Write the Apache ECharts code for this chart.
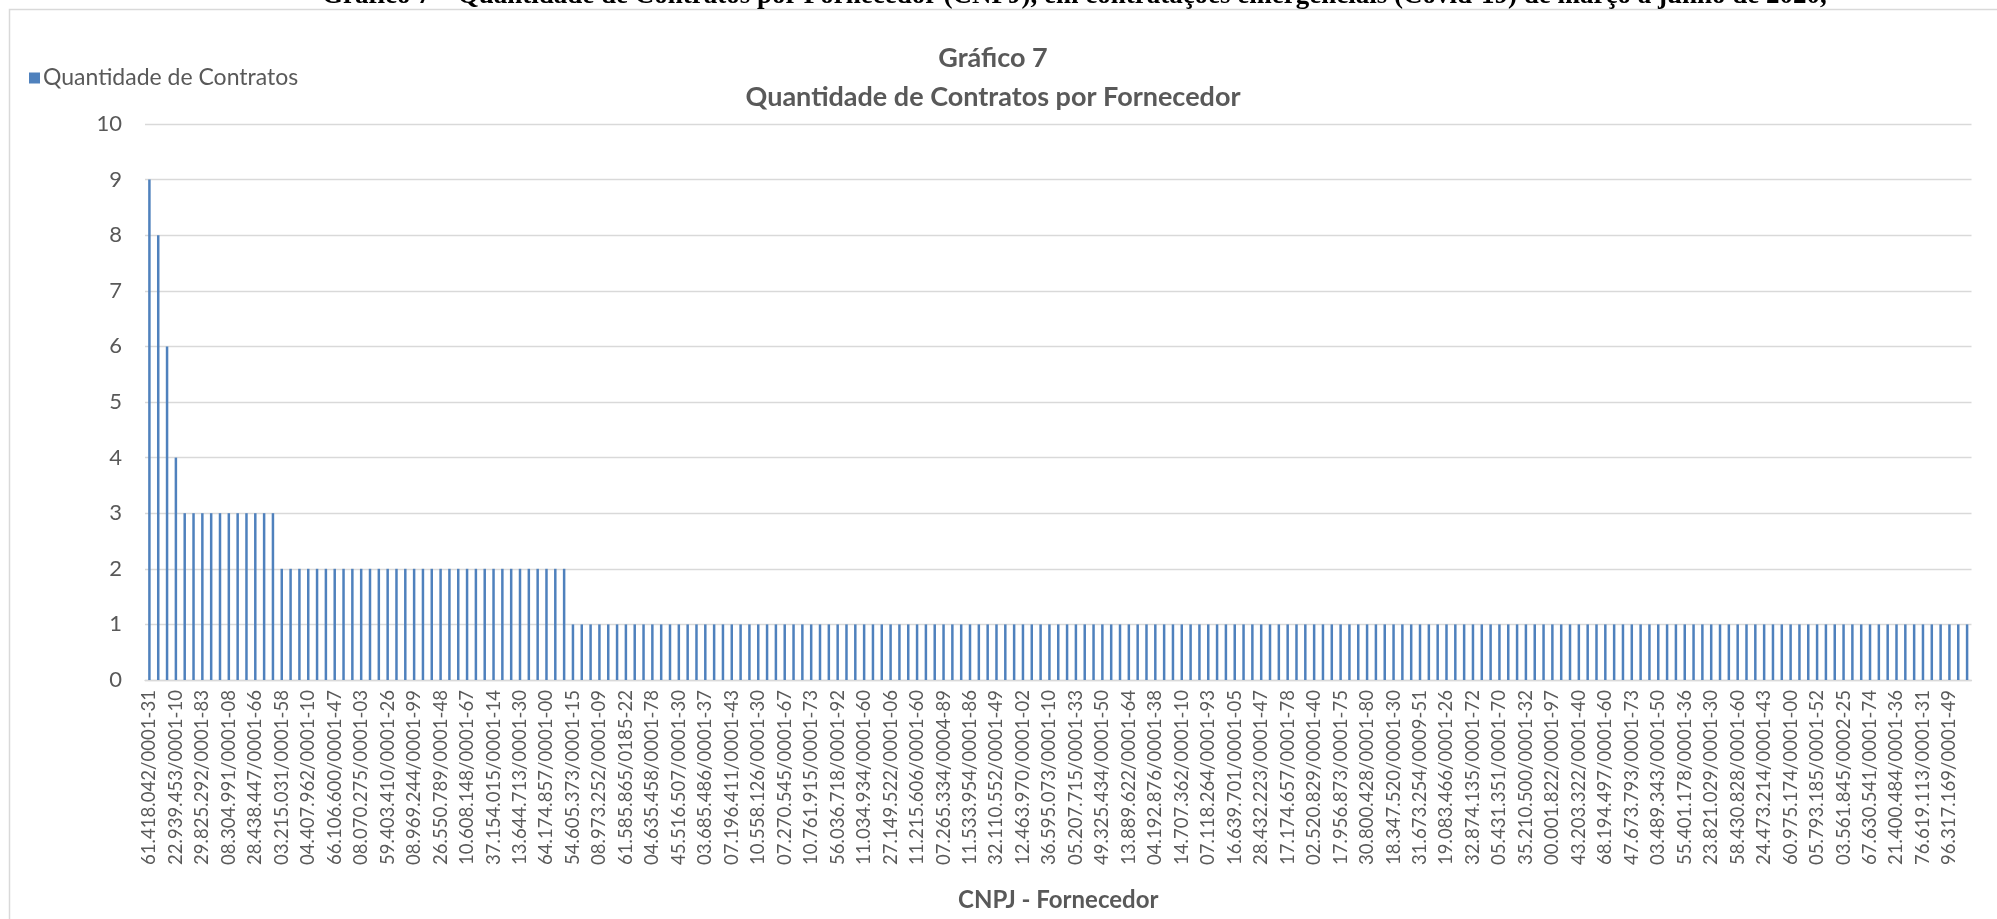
<!DOCTYPE html>
<html>
<head>
<meta charset="utf-8">
<script src="https://cdn.jsdelivr.net/npm/echarts@6/dist/echarts.min.js"></script>
<style>
html,body{margin:0;padding:0;background:#fff;overflow:hidden;}
body{position:relative;width:1997px;height:919px;}
#chart{position:absolute;left:0;top:0;width:1997px;height:919px;}
#caption{position:absolute;left:322px;top:-20.5px;margin:0;white-space:nowrap;
  font:bold 27px/29px "Liberation Serif","Times New Roman",serif;color:#000;z-index:2;}
</style>
</head>
<body>
<div id="chart"></div>
<p id="caption"></p>
<script>
// Labels shown under every third bar (the others are not labelled in the source)
const cnpjLabels = [
  '61.418.042/0001-31','22.939.453/0001-10','29.825.292/0001-83','08.304.991/0001-08',
  '28.438.447/0001-66','03.215.031/0001-58','04.407.962/0001-10','66.106.600/0001-47',
  '08.070.275/0001-03','59.403.410/0001-26','08.969.244/0001-99','26.550.789/0001-48',
  '10.608.148/0001-67','37.154.015/0001-14','13.644.713/0001-30','64.174.857/0001-00',
  '54.605.373/0001-15','08.973.252/0001-09','61.585.865/0185-22','04.635.458/0001-78',
  '45.516.507/0001-30','03.685.486/0001-37','07.196.411/0001-43','10.558.126/0001-30',
  '07.270.545/0001-67','10.761.915/0001-73','56.036.718/0001-92','11.034.934/0001-60',
  '27.149.522/0001-06','11.215.606/0001-60','07.265.334/0004-89','11.533.954/0001-86',
  '32.110.552/0001-49','12.463.970/0001-02','36.595.073/0001-10','05.207.715/0001-33',
  '49.325.434/0001-50','13.889.622/0001-64','04.192.876/0001-38','14.707.362/0001-10',
  '07.118.264/0001-93','16.639.701/0001-05','28.432.223/0001-47','17.174.657/0001-78',
  '02.520.829/0001-40','17.956.873/0001-75','30.800.428/0001-80','18.347.520/0001-30',
  '31.673.254/0009-51','19.083.466/0001-26','32.874.135/0001-72','05.431.351/0001-70',
  '35.210.500/0001-32','00.001.822/0001-97','43.203.322/0001-40','68.194.497/0001-60',
  '47.673.793/0001-73','03.489.343/0001-50','55.401.178/0001-36','23.821.029/0001-30',
  '58.430.828/0001-60','24.473.214/0001-43','60.975.174/0001-00','05.793.185/0001-52',
  '03.561.845/0002-25','67.630.541/0001-74','21.400.484/0001-36','76.619.113/0001-31',
  '96.317.169/0001-49'
];

// Quantidade de Contratos, one value per supplier (207 suppliers)
const contratos = [
  9,8,6,4,
  3,3,3,3,3,3,3,3,3,3,3,
  2,2,2,2,2,2,2,2,2,2,2,2,2,2,2,2,2,2,2,2,2,2,2,2,2,2,2,2,2,2,2,2,2,
  1,1,1,1,1,1,1,1,1,1,1,1,1,1,1,1,1,1,1,1,
  1,1,1,1,1,1,1,1,1,1,1,1,1,1,1,1,1,1,1,1,
  1,1,1,1,1,1,1,1,1,1,1,1,1,1,1,1,1,1,1,1,
  1,1,1,1,1,1,1,1,1,1,1,1,1,1,1,1,1,1,1,1,
  1,1,1,1,1,1,1,1,1,1,1,1,1,1,1,1,1,1,1,1,
  1,1,1,1,1,1,1,1,1,1,1,1,1,1,1,1,1,1,1,1,
  1,1,1,1,1,1,1,1,1,1,1,1,1,1,1,1,1,1,1,1,
  1,1,1,1,1,1,1,1,1,1,1,1,1,1,1,1,1,1,1
];

const yTicks = [0,1,2,3,4,5,6,7,8,9,10];
const seriesName = 'Quantidade de Contratos';
const chartTitle = 'Gráfico 7\nQuantidade de Contratos por Fornecedor';
const xAxisName = 'CNPJ - Fornecedor';
const docCaption = 'Gráfico 7 – Quantidade de Contratos por Fornecedor (CNPJ), em contratações emergenciais (Covid-19) de março a junho de 2020,';

document.getElementById('caption').textContent = docCaption;

// category list: labelled CNPJ at every third supplier, unlabelled ones blank
const categories = contratos.map((v, i) => (i % 3 === 0 ? (cnpjLabels[i / 3] || '') : ''));

const FONT = 'Lato, "Open Sans", sans-serif';
const GREY = '#595959';

const chart = echarts.init(document.getElementById('chart'), null, {renderer: 'canvas'});
chart.setOption({
  animation: false,
  backgroundColor: '#ffffff',
  title: {
    text: chartTitle,
    left: 988,
    textAlign: 'center',
    top: 34.5,
    textStyle: {fontFamily: FONT, fontWeight: 'bold', fontSize: 27, lineHeight: 38.5, color: GREY}
  },
  legend: {
    data: [seriesName],
    left: 24,
    top: 61.5,
    icon: 'rect',
    itemWidth: 11,
    itemHeight: 11,
    itemGap: 6,
    textStyle: {fontFamily: FONT, fontSize: 23, color: GREY, padding: [0, 0, 0, -2]}
  },
  grid: {left: 145, right: 25.5, top: 124, bottom: 239, containLabel: false, outerBoundsMode: 'none'},
  xAxis: {
    type: 'category',
    data: categories,
    boundaryGap: true,
    axisTick: {show: false},
    axisLine: {show: true, lineStyle: {color: '#d9d9d9', width: 1.3}},
    axisLabel: {interval: 2, rotate: 90, margin: 10, fontFamily: FONT, fontSize: 18.6, color: GREY},
    name: xAxisName,
    nameLocation: 'middle',
    nameGap: 208,
    nameMoveOverlap: false,
    nameTextStyle: {fontFamily: FONT, fontWeight: 'bold', fontSize: 24, color: GREY}
  },
  yAxis: {
    type: 'value',
    min: yTicks[0],
    max: yTicks[yTicks.length - 1],
    interval: 1,
    axisLine: {show: false},
    axisTick: {show: false},
    axisLabel: {margin: 23, fontFamily: FONT, fontSize: 22, color: GREY},
    splitLine: {lineStyle: {color: '#d9d9d9', width: 1.3}}
  },
  series: [{
    name: seriesName,
    type: 'bar',
    data: contratos,
    barWidth: 2.5,
    itemStyle: {color: '#4F81BD'}
  }],
  graphic: [
    {
      type: 'rect',
      left: 7,
      top: 7,
      shape: {width: 2100, height: 1000},
      style: {fill: 'none', stroke: '#d9d9d9', lineWidth: 1.5},
      silent: true
    }
  ]
});
</script>
</body>
</html>
